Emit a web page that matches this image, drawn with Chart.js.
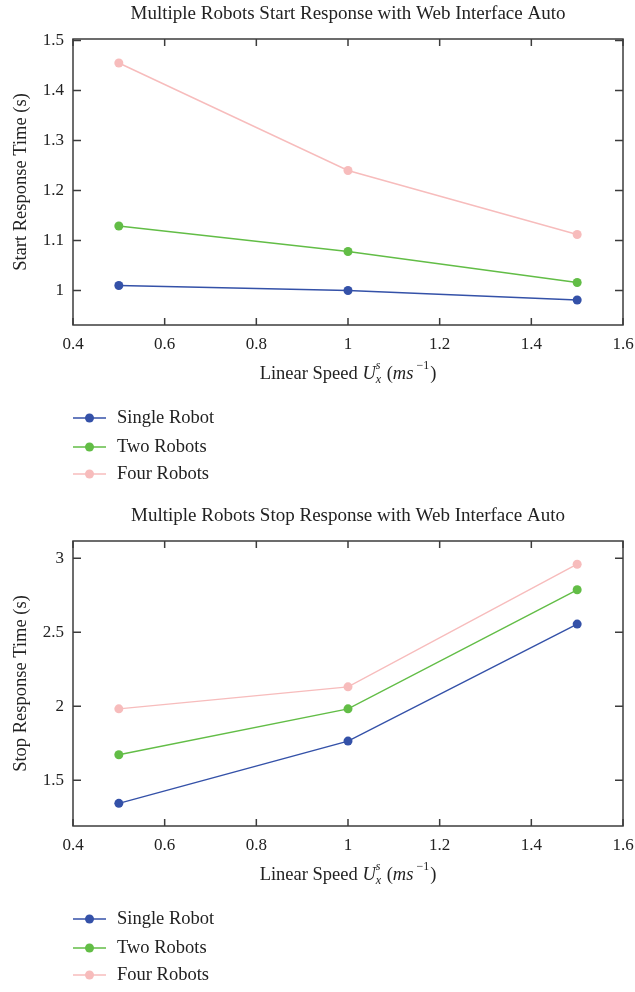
<!DOCTYPE html>
<html>
<head>
<meta charset="utf-8">
<script src="https://cdn.jsdelivr.net/npm/chart.js@4.4.1/dist/chart.umd.min.js"></script>
<style>
  html, body { margin: 0; padding: 0; background: #fff; }
  .box { position: relative; width: 635px; }
  canvas { display: block; }
</style>
</head>
<body>
<div class="box" style="height:502px"><canvas id="chart-start"></canvas></div>
<div class="box" style="height:490px"><canvas id="chart-stop"></canvas></div>
<script>
// linear speed values (x) shared by both charts
const xSpeeds = [0.5, 1.0, 1.5];
const xTicks = [0.4, 0.6, 0.8, 1.0, 1.2, 1.4, 1.6];

const seriesNames = ['Single Robot', 'Two Robots', 'Four Robots'];
const seriesColors = ['#3451a8', '#62bd46', '#f7bcbc'];

// start response time (s)
const startSingle = [1.010, 1.000, 0.981];
const startTwo = [1.129, 1.078, 1.016];
const startFour = [1.455, 1.240, 1.112];
const startYTicks = [1.0, 1.1, 1.2, 1.3, 1.4, 1.5];

// stop response time (s)
const stopSingle = [1.343, 1.764, 2.555];
const stopTwo = [1.672, 1.982, 2.787];
const stopFour = [1.982, 2.131, 2.960];
const stopYTicks = [1.5, 2.0, 2.5, 3.0];

const SERIF = '"Liberation Serif", "DejaVu Serif", serif';
const TEXT = '#222';
const FRAME = '#3c3c3c';

function toPoints(ys) {
  return ys.map((y, i) => ({ x: xSpeeds[i], y }));
}

function fmt(v) {
  return String(+v.toFixed(2));
}

// box around the plot with inward tick marks on every side
const framePlugin = {
  id: 'frame',
  beforeDatasetsDraw(chart) {
    const { ctx, chartArea: a, scales } = chart;
    ctx.save();
    ctx.strokeStyle = FRAME;
    ctx.lineWidth = 1.5;
    ctx.strokeRect(a.left, a.top, a.right - a.left, a.bottom - a.top);
    ctx.beginPath();
    scales.x.ticks.forEach(t => {
      const px = scales.x.getPixelForValue(t.value);
      ctx.moveTo(px, a.bottom); ctx.lineTo(px, a.bottom - 7);
      ctx.moveTo(px, a.top); ctx.lineTo(px, a.top + 7);
    });
    scales.y.ticks.forEach(t => {
      const py = scales.y.getPixelForValue(t.value);
      ctx.moveTo(a.left, py); ctx.lineTo(a.left + 8, py);
      ctx.moveTo(a.right, py); ctx.lineTo(a.right - 8, py);
    });
    ctx.stroke();
    ctx.restore();
  }
};

// title, math x-axis label and vertical legend
const textPlugin = {
  id: 'texts',
  afterDraw(chart, args, opts) {
    const { ctx, chartArea: a } = chart;
    const cx = (a.left + a.right) / 2;
    ctx.save();
    ctx.fillStyle = TEXT;
    ctx.textBaseline = 'middle';

    ctx.font = '19px ' + SERIF;
    ctx.textAlign = 'center';
    ctx.fillText(opts.title, cx, a.top - 25);

    // Linear Speed U_x^s (ms^-1)
    ctx.textAlign = 'left';
    const big = '18.5px ' + SERIF, bigIt = 'italic 18.5px ' + SERIF;
    const small = '12px ' + SERIF, smallIt = 'italic 12px ' + SERIF;
    const parts = [
      { t: 'Linear Speed ', f: big },
      { t: 'U', f: bigIt },
      { sup: 's', sub: 'x', f: smallIt },
      { t: ' (', f: big },
      { t: 'ms', f: bigIt },
      { sup: ' \u22121', f: small },
      { t: ')', f: big }
    ];
    const widthOf = p => {
      ctx.font = p.f;
      if (p.t) return ctx.measureText(p.t).width;
      return Math.max(ctx.measureText(p.sup || '').width, ctx.measureText(p.sub || '').width) + 1;
    };
    const total = parts.reduce((s, p) => s + widthOf(p), 0);
    let x = cx - total / 2;
    const ty = a.bottom + 49;
    parts.forEach(p => {
      const w = widthOf(p);
      ctx.font = p.f;
      if (p.t) ctx.fillText(p.t, x, ty);
      if (p.sup) ctx.fillText(p.sup, x, ty - 8);
      if (p.sub) ctx.fillText(p.sub, x, ty + 6);
      x += w;
    });

    // legend
    const rows = [93, 122, 149];
    chart.data.datasets.forEach((ds, i) => {
      const y = a.bottom + rows[i];
      ctx.strokeStyle = ds.borderColor;
      ctx.lineWidth = 1.4;
      ctx.beginPath();
      ctx.moveTo(a.left, y);
      ctx.lineTo(a.left + 33, y);
      ctx.stroke();
      ctx.fillStyle = ds.borderColor;
      ctx.beginPath();
      ctx.arc(a.left + 16.5, y, 4.5, 0, Math.PI * 2);
      ctx.fill();
      ctx.fillStyle = TEXT;
      ctx.font = '18.5px ' + SERIF;
      ctx.fillText(ds.label, a.left + 44, y);
    });
    ctx.restore();
  }
};

function makeChart(id, title, yTitle, series, yMin, yMax, yTicks, padBottom) {
  const datasets = series.map((ys, i) => ({
    label: seriesNames[i],
    data: toPoints(ys),
    borderColor: seriesColors[i],
    backgroundColor: seriesColors[i],
    borderWidth: 1.4,
    pointRadius: 4.5,
    pointHoverRadius: 4.5,
    pointBorderWidth: 0,
    tension: 0
  }));
  return new Chart(document.getElementById(id), {
    type: 'line',
    data: { datasets },
    options: {
      responsive: true,
      maintainAspectRatio: false,
      animation: false,
      layout: { padding: { top: 39, right: 12, bottom: padBottom, left: 0 } },
      plugins: {
        legend: { display: false },
        tooltip: { enabled: false },
        texts: { title }
      },
      scales: {
        x: {
          type: 'linear',
          min: 0.4,
          max: 1.6,
          afterBuildTicks: s => { s.ticks = xTicks.map(v => ({ value: v })); },
          afterFit: s => { s.height = 30; s.paddingRight = 0; s.paddingLeft = 0; },
          grid: { display: false, drawTicks: false },
          border: { display: false },
          ticks: {
            padding: 9,
            color: TEXT,
            font: { family: SERIF, size: 17 },
            callback: v => fmt(v)
          }
        },
        y: {
          type: 'linear',
          min: yMin,
          max: yMax,
          afterBuildTicks: s => { s.ticks = yTicks.map(v => ({ value: v })); },
          afterFit: s => { s.width = 73; s.paddingTop = 0; s.paddingBottom = 0; },
          grid: { display: false, drawTicks: false },
          border: { display: false },
          title: {
            display: true,
            text: yTitle,
            color: TEXT,
            font: { family: SERIF, size: 18.5 },
            padding: { top: 10, bottom: 0 }
          },
          ticks: {
            padding: 9,
            color: TEXT,
            font: { family: SERIF, size: 17 },
            callback: v => fmt(v)
          }
        }
      }
    },
    plugins: [framePlugin, textPlugin]
  });
}

makeChart('chart-start', 'Multiple Robots Start Response with Web Interface Auto',
  'Start Response Time (s)', [startSingle, startTwo, startFour], 0.931, 1.503, startYTicks, 147);
makeChart('chart-stop', 'Multiple Robots Stop Response with Web Interface Auto',
  'Stop Response Time (s)', [stopSingle, stopTwo, stopFour], 1.19, 3.117, stopYTicks, 136);
</script>
</body>
</html>
